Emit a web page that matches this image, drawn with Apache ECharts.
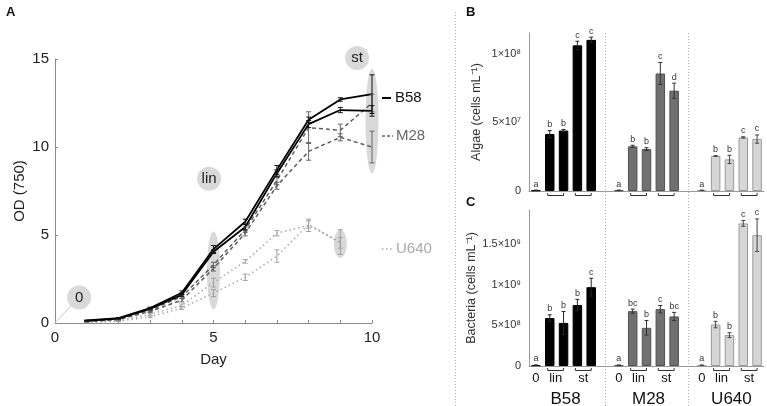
<!DOCTYPE html>
<html><head><meta charset="utf-8">
<script src="https://cdn.jsdelivr.net/npm/echarts@6/dist/echarts.min.js"></script>
<style>html,body{margin:0;padding:0;background:#fff}#c{width:767px;height:406px}</style>
</head><body><div id="c"></div>
<script>
// ---------- Panel A data (OD 750 growth curves) ----------
const days = [1, 2, 3, 4, 5, 6, 7, 8, 9, 10];
const b58RepA = [0.15, 0.28, 0.85, 1.72, 4.2, 5.75, 8.7, 11.55, 12.7, 13.0];
const b58RepAErr = [0.02, 0.03, 0.05, 0.1, 0.2, 0.15, 0.25, 0.15, 0.1, 1.1];
const b58RepB = [0.12, 0.25, 0.8, 1.6, 4.05, 5.45, 8.5, 11.3, 12.1, 12.05];
const b58RepBErr = [0.02, 0.03, 0.05, 0.1, 0.1, 0.15, 0.2, 0.2, 0.15, 0.3];
const m28RepA = [0.1, 0.22, 0.72, 1.5, 3.3, 5.3, 8.1, 11.1, 10.95, 12.5];
const m28RepAErr = [0.02, 0.03, 0.05, 0.1, 0.15, 0.15, 0.25, 0.9, 0.35, 0.5];
const m28RepB = [0.08, 0.2, 0.65, 1.3, 3.1, 5.1, 7.8, 9.75, 10.55, 10.0];
const m28RepBErr = [0.02, 0.03, 0.05, 0.1, 0.15, 0.15, 0.2, 0.5, 0.2, 0.9];
const u640RepA = [0.05, 0.12, 0.5, 1.0, 2.3, 3.5, 5.1, 5.55, 4.6];
const u640RepAErr = [0.02, 0.02, 0.05, 0.08, 0.25, 0.1, 0.15, 0.35, 0.7];
const u640RepB = [0.04, 0.1, 0.35, 0.85, 1.7, 2.6, 3.8, 5.6, 4.55];
const u640RepBErr = [0.02, 0.02, 0.05, 0.08, 0.2, 0.18, 0.35, 0.2, 0.3];

// ---------- Panels B & C data ----------
const strains = ['B58', 'M28', 'U640'];
const stages = ['0', 'lin', 'lin', 'st', 'st'];
const algaeB58 = [5e5, 4.15e7, 4.4e7, 1.06e8, 1.10e8];
const algaeB58Err = [2e5, 2.5e6, 8e5, 3e6, 2e6];
const algaeM28 = [5e5, 3.25e7, 3.05e7, 8.55e7, 7.3e7];
const algaeM28Err = [2e5, 8e5, 1e6, 8e6, 5.5e6];
const algaeU640 = [5e5, 2.55e7, 2.3e7, 3.9e7, 3.78e7];
const algaeU640Err = [2e5, 3e5, 3e6, 5e5, 3e6];
const algaeLetters = [['a','b','b','c','c'], ['a','b','b','c','d'], ['a','b','b','c','c']];
const bactB58 = [1e7, 5.9e8, 5.3e8, 7.5e8, 9.7e8];
const bactB58Err = [3e6, 4e7, 1.4e8, 7e7, 1.1e8];
const bactM28 = [1e7, 6.75e8, 4.7e8, 7.0e8, 6.1e8];
const bactM28Err = [3e6, 2.5e7, 9e7, 4.5e7, 5e7];
const bactU640 = [1e7, 5.1e8, 3.8e8, 1.755e9, 1.61e9];
const bactU640Err = [3e6, 4e7, 3e7, 3.5e7, 2e8];
const bactLetters = [['a','b','b','b','c'], ['a','bc','b','c','bc'], ['a','b','b','c','c']];
const algaeTickLabels = ['0', '5×10⁷', '1×10⁸'];
const bactTickLabels = ['0', '5×10⁸', '1×10⁹', '1.5×10⁹'];
const odTickLabels = ['0', '5', '10', '15'];
const dayTickLabels = ['0', '5', '10'];

// annotations in panel A: [day, low, high]
const ellipses = [[5, 0.78, 5.2], [10, 8.5, 14.45], [9, 3.7, 5.3]];
const phaseBubbles = [[0.76, 1.45, '0'], [4.86, 8.2, 'lin'], [9.53, 15.06, 'st']];

// ---------- layout ----------
const FONT = 'Liberation Sans, Arial, sans-serif';
const GA = {left: 55, top: 59, width: 317, height: 264};
const GB = {left: 529, top: 33, width: 235, height: 158};
const GC = {left: 529, top: 210, width: 235, height: 156};
const NSLOT = 17;
const slotW = GB.width / NSLOT;

const slotNames = [];
strains.forEach((s, g) => {
  stages.forEach((st, i) => slotNames.push(s + ' ' + st + (i === 0 ? '' : (i % 2 ? 'a' : 'b'))));
  if (g < 2) slotNames.push('gap' + g);
});
const slotOf = (g, i) => g * 6 + i;

function barData(g, vals) {
  const d = new Array(NSLOT).fill('-');
  vals.forEach((v, i) => { d[slotOf(g, i)] = v; });
  return d;
}

function lineSeries(name, arr, color, type, width) {
  return {
    type: 'line', name, xAxisIndex: 0, yAxisIndex: 0,
    data: arr.map((v, i) => [days[i], v]),
    symbol: 'none', showSymbol: false, silent: true, z: 4,
    lineStyle: {color, type, width}
  };
}
function errSeriesA(arr, errs, color) {
  return {
    type: 'custom', xAxisIndex: 0, yAxisIndex: 0, z: 5, silent: true,
    data: arr.map((v, i) => [days[i], v - errs[i], v + errs[i]]),
    renderItem(params, api) {
      const p1 = api.coord([api.value(0), api.value(1)]);
      const p2 = api.coord([api.value(0), api.value(2)]);
      const w = 2.5, st = {stroke: color, lineWidth: 1};
      return {type: 'group', children: [
        {type: 'line', shape: {x1: p1[0], y1: p1[1], x2: p2[0], y2: p2[1]}, style: st},
        {type: 'line', shape: {x1: p1[0]-w, y1: p1[1], x2: p1[0]+w, y2: p1[1]}, style: st},
        {type: 'line', shape: {x1: p2[0]-w, y1: p2[1], x2: p2[0]+w, y2: p2[1]}, style: st}
      ]};
    }
  };
}
function errSeriesBar(ax, g, vals, errs, letters, color) {
  return {
    type: 'custom', xAxisIndex: ax, yAxisIndex: ax, z: 5, silent: true,
    data: vals.map((v, i) => [slotOf(g, i), v - errs[i], v + errs[i]]),
    renderItem(params, api) {
      const p1 = api.coord([api.value(0), api.value(1)]);
      const p2 = api.coord([api.value(0), api.value(2)]);
      const w = 2, st = {stroke: color, lineWidth: 1};
      return {type: 'group', children: [
        {type: 'line', shape: {x1: p1[0], y1: p1[1], x2: p2[0], y2: p2[1]}, style: st},
        {type: 'line', shape: {x1: p1[0]-w, y1: p1[1], x2: p1[0]+w, y2: p1[1]}, style: st},
        {type: 'line', shape: {x1: p2[0]-w, y1: p2[1], x2: p2[0]+w, y2: p2[1]}, style: st},
        {type: 'text', style: {text: letters[params.dataIndex], x: p2[0], y: p2[1] - 6,
          align: 'center', verticalAlign: 'middle', fontSize: 9, fontFamily: FONT, fill: '#333'}}
      ]};
    }
  };
}
function bracketSeries(ax, withLabels) {
  const data = [];
  strains.forEach((s, g) => {
    data.push([slotOf(g, 1), slotOf(g, 2), 0]);
    data.push([slotOf(g, 3), slotOf(g, 4), 1]);
  });
  return {
    type: 'custom', xAxisIndex: ax, yAxisIndex: ax, z: 6, silent: true, clip: false,
    data,
    renderItem(params, api) {
      const a = api.coord([api.value(0), 0]);
      const b = api.coord([api.value(1), 0]);
      const y = a[1];
      const st = {stroke: '#333', lineWidth: 1, fill: null};
      const ch = [{type: 'polyline', shape: {points: [[a[0]-2, y+2], [a[0]-2, y+4.5], [b[0], y+4.5], [b[0], y+2]]}, style: st}];
      if (withLabels) {
        const idx = api.value(2);
        ch.push({type: 'text', style: {text: idx === 0 ? 'lin' : 'st', x: (a[0]+b[0])/2 - 1, y: y + 12.5,
          align: 'center', verticalAlign: 'middle', fontSize: 13, fontFamily: FONT, fill: '#111'}});
        if (idx === 0) {
          const z = api.coord([api.value(0) - 1, 0]);
          const gc = api.coord([api.value(1), 0]);
          ch.push({type: 'text', style: {text: stages[0], x: z[0], y: y + 12.5,
            align: 'center', verticalAlign: 'middle', fontSize: 13, fontFamily: FONT, fill: '#111'}});
          ch.push({type: 'text', style: {text: strains[Math.floor(api.value(0) / 6)], x: gc[0] + 2, y: y + 33,
            align: 'center', verticalAlign: 'middle', fontSize: 17, fontFamily: FONT, fill: '#111'}});
        }
      }
      return {type: 'group', children: ch};
    }
  };
}

const annotSeries = {
  type: 'custom', xAxisIndex: 0, yAxisIndex: 0, z: 1, silent: true, clip: false,
  data: ellipses,
  renderItem(params, api) {
    const top = api.coord([api.value(0), api.value(2)]);
    const bot = api.coord([api.value(0), api.value(1)]);
    return {type: 'ellipse', shape: {cx: top[0], cy: (top[1]+bot[1])/2, rx: 6.5, ry: (bot[1]-top[1])/2},
      style: {fill: '#d9d9d9'}};
  }
};
const bubbleSeries = {
  type: 'custom', xAxisIndex: 0, yAxisIndex: 0, z: 1, silent: true, clip: false,
  data: phaseBubbles.map(b => [b[0], b[1]]),
  renderItem(params, api) {
    const c = api.coord([api.value(0), api.value(1)]);
    const ch = [{type: 'circle', shape: {cx: c[0], cy: c[1], r: 12}, style: {fill: '#d9d9d9'}},
      {type: 'text', style: {text: phaseBubbles[params.dataIndex][2], x: c[0], y: c[1],
        align: 'center', verticalAlign: 'middle', fontSize: 15, fontFamily: FONT, fill: '#222'}}];
    if (params.dataIndex === 0) {
      const o = api.coord([0, 0]);
      ch.unshift({type: 'line', shape: {x1: o[0], y1: o[1], x2: c[0]-8, y2: c[1]+8}, style: {stroke: '#c8c8c8', lineWidth: 1}});
    }
    return {type: 'group', children: ch};
  }
};

function tickFmt(labels, interval) {
  return v => {
    const k = v / interval;
    if (Math.abs(k - Math.round(k)) > 1e-6) return '';
    return labels[Math.round(k)] !== undefined ? labels[Math.round(k)] : '';
  };
}

const axisGray = '#8a8a8a';
const catAxis = (gi) => ({
  type: 'category', gridIndex: gi, data: slotNames, boundaryGap: true,
  axisLine: {lineStyle: {color: '#999', width: 1}}, axisTick: {show: false}, axisLabel: {show: false}
});
const barYAxis = (gi, max, interval, labels, name) => ({
  type: 'value', gridIndex: gi, min: 0, max, interval,
  axisLine: {show: true, lineStyle: {color: '#999'}}, axisTick: {show: false}, splitLine: {show: false},
  axisLabel: {formatter: tickFmt(labels, interval), fontSize: 11, color: '#333', fontFamily: FONT, margin: 8},
  name, nameLocation: 'middle', nameGap: 46, nameRotate: 90,
  nameTextStyle: {fontSize: 12.5, color: '#333', fontFamily: FONT}
});

function barSeries(ax, g, vals, color, border) {
  return {type: 'bar', xAxisIndex: ax, yAxisIndex: ax, data: barData(g, vals), barWidth: 9.5, barGap: '-100%',
    silent: true, z: 3, itemStyle: {color, borderColor: border, borderWidth: 1}};
}

const sepStyle = {stroke: '#b0b0b0', lineWidth: 1, lineDash: [1, 2]};
const gapX = (k) => GB.left + slotW * (slotOf(k, 5) + 0.5);

const option = {
  animation: false,
  backgroundColor: '#fff',
  textStyle: {fontFamily: FONT},
  grid: [
    Object.assign({containLabel: false}, GA),
    Object.assign({containLabel: false}, GB),
    Object.assign({containLabel: false}, GC)
  ],
  xAxis: [
    {type: 'value', gridIndex: 0, min: 0, max: 10, interval: 1,
      axisLine: {lineStyle: {color: axisGray}}, axisTick: {inside: true, length: 3, lineStyle: {color: axisGray}},
      splitLine: {show: false},
      axisLabel: {formatter: tickFmt(dayTickLabels, 5), fontSize: 15, color: '#222', margin: 7},
      name: 'Day', nameLocation: 'middle', nameGap: 29, nameTextStyle: {fontSize: 15, color: '#222'}},
    catAxis(1), catAxis(2)
  ],
  yAxis: [
    {type: 'value', gridIndex: 0, min: 0, max: 15, interval: 5,
      axisLine: {show: true, lineStyle: {color: axisGray}}, axisTick: {show: true, inside: true, length: 3, lineStyle: {color: axisGray}},
      splitLine: {show: false},
      axisLabel: {formatter: tickFmt(odTickLabels, 5), fontSize: 15, color: '#222', margin: 6},
      name: 'OD (750)', nameLocation: 'middle', nameGap: 28, nameRotate: 90, nameTextStyle: {fontSize: 15, color: '#222'}},
    barYAxis(1, 1.15e8, 5e7, algaeTickLabels, 'Algae (cells mL⁻¹)'),
    barYAxis(2, 1.92e9, 5e8, bactTickLabels, 'Bacteria (cells mL⁻¹)')
  ],
  series: [
    annotSeries, bubbleSeries,
    lineSeries('U640 a', u640RepA, '#a8a8a8', [1.5, 3], 1.5),
    lineSeries('U640 b', u640RepB, '#a8a8a8', [1.5, 3], 1.5),
    lineSeries('M28 a', m28RepA, '#5e5e5e', [4, 3], 1.5),
    lineSeries('M28 b', m28RepB, '#5e5e5e', [4, 3], 1.5),
    lineSeries('B58 a', b58RepA, '#000', 'solid', 1.8),
    lineSeries('B58 b', b58RepB, '#000', 'solid', 1.8),
    errSeriesA(u640RepA, u640RepAErr, '#a0a0a0'),
    errSeriesA(u640RepB, u640RepBErr, '#a0a0a0'),
    errSeriesA(m28RepA, m28RepAErr, '#666'),
    errSeriesA(m28RepB, m28RepBErr, '#666'),
    errSeriesA(b58RepA, b58RepAErr, '#111'),
    errSeriesA(b58RepB, b58RepBErr, '#111'),
    barSeries(1, 0, algaeB58, '#000', '#000'),
    barSeries(1, 1, algaeM28, '#707070', '#505050'),
    barSeries(1, 2, algaeU640, '#d6d6d6', '#9a9a9a'),
    errSeriesBar(1, 0, algaeB58, algaeB58Err, algaeLetters[0], '#222'),
    errSeriesBar(1, 1, algaeM28, algaeM28Err, algaeLetters[1], '#333'),
    errSeriesBar(1, 2, algaeU640, algaeU640Err, algaeLetters[2], '#444'),
    barSeries(2, 0, bactB58, '#000', '#000'),
    barSeries(2, 1, bactM28, '#707070', '#505050'),
    barSeries(2, 2, bactU640, '#d6d6d6', '#9a9a9a'),
    errSeriesBar(2, 0, bactB58, bactB58Err, bactLetters[0], '#222'),
    errSeriesBar(2, 1, bactM28, bactM28Err, bactLetters[1], '#333'),
    errSeriesBar(2, 2, bactU640, bactU640Err, bactLetters[2], '#444'),
    bracketSeries(1, false),
    bracketSeries(2, true)
  ],
  graphic: [
    {type: 'text', left: 6, top: 6, style: {text: 'A', fontSize: 13, fontWeight: 'bold', fontFamily: FONT, fill: '#111'}},
    {type: 'text', left: 466, top: 6, style: {text: 'B', fontSize: 13, fontWeight: 'bold', fontFamily: FONT, fill: '#111'}},
    {type: 'text', left: 466, top: 196, style: {text: 'C', fontSize: 13, fontWeight: 'bold', fontFamily: FONT, fill: '#111'}},
    {type: 'line', shape: {x1: 455.5, y1: 12, x2: 455.5, y2: 406}, style: sepStyle},
    {type: 'line', shape: {x1: Math.round(gapX(0)) + 0.5, y1: 33, x2: Math.round(gapX(0)) + 0.5, y2: 406}, style: sepStyle},
    {type: 'line', shape: {x1: Math.round(gapX(1)) + 0.5, y1: 33, x2: Math.round(gapX(1)) + 0.5, y2: 406}, style: sepStyle},
    {type: 'line', shape: {x1: 382, y1: 98, x2: 391, y2: 98}, style: {stroke: '#000', lineWidth: 2}},
    {type: 'text', x: 395, y: 98, style: {text: strains[0], fontSize: 15, fontFamily: FONT, fill: '#111', verticalAlign: 'middle'}},
    {type: 'line', shape: {x1: 382, y1: 136, x2: 393, y2: 136}, style: {stroke: '#666', lineWidth: 1.5, lineDash: [3, 2]}},
    {type: 'text', x: 396, y: 136, style: {text: strains[1], fontSize: 15, fontFamily: FONT, fill: '#666', verticalAlign: 'middle'}},
    {type: 'line', shape: {x1: 382, y1: 249, x2: 393, y2: 249}, style: {stroke: '#aaa', lineWidth: 1.5, lineDash: [1.5, 2.5]}},
    {type: 'text', x: 396, y: 249, style: {text: strains[2], fontSize: 15, fontFamily: FONT, fill: '#aaa', verticalAlign: 'middle'}}
  ]
};

const chart = echarts.init(document.getElementById('c'), null, {renderer: 'canvas'});
chart.setOption(option);
</script>
</body></html>
